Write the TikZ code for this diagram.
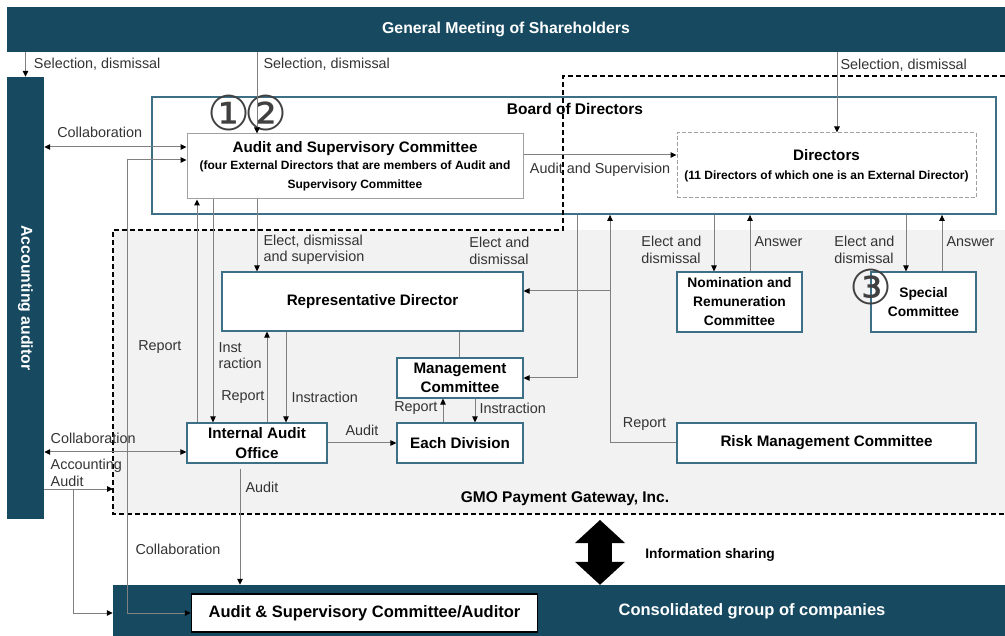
\documentclass[tikz,border=0pt]{standalone}
\usepackage{fontspec}
\setmainfont{Liberation Sans}
\newfontfamily\circfont{DejaVu Sans}
\usepackage{graphicx}
\usetikzlibrary{arrows.meta}
\definecolor{GovTeal}{HTML}{174A61}
\definecolor{BoxTeal}{HTML}{3D6F87}
\definecolor{LineGrey}{HTML}{808080}
\definecolor{EdgeGrey}{HTML}{A0A0A0}
\definecolor{ZoneGrey}{HTML}{F2F2F2}
\definecolor{LabelGrey}{HTML}{333333}
\definecolor{NumGrey}{HTML}{404040}
\newcommand\smallbold{\fontsize{12}{16}\selectfont}

\begin{document}
\begin{tikzpicture}[x=1pt,y=-1pt,>={Triangle[length=6pt,width=5.5pt,color=black]},
 banner/.style={fill=GovTeal,text=white,inner sep=0pt,font=\bfseries\fontsize{15.8}{18}\selectfont},
 unit/.style={draw=BoxTeal,line width=1.2pt,fill=white,align=center,inner sep=0pt,
              font=\bfseries\fontsize{15.2}{19.5}\selectfont},
 comm/.style={unit,font=\bfseries\fontsize{13.8}{19}\selectfont},
 note/.style={text=LabelGrey,inner sep=2pt,align=left,font=\fontsize{14.4}{16.5}\selectfont},
 link/.style={draw=LineGrey,line width=1pt},
 circnum/.style={text=NumGrey,inner sep=0pt,font=\circfont\fontsize{48}{48}\selectfont}]
\useasboundingbox (0,0) rectangle (1005,636);
\fill[ZoneGrey] (113,230) rectangle (1005,514);

% columns and rows where the connectors run
\foreach \n/\x in {acc/73,col/127,repa/197,insa/213,aud/240,sel/257,repb/267,insb/286,
                   repc/443,mg/459,insc/475,elm/577,share/600,rpr/610,nome/714,noma/750,
                   dsel/837,spce/906,spca/942}
  \coordinate (x\n) at (\x,0);
\foreach \n/\y in {cola/147,sup/155,colb/160,rrep/291,colc/452,acc/489}
  \coordinate (y\n) at (0,\y);
\coordinate (gmosw) at (113,514);

\node[banner,minimum width=998pt,minimum height=45pt] (gms) at (506,29.5) {General Meeting of Shareholders};
\node[banner,minimum width=37pt,minimum height=442pt] (audr) at (25.5,298) {\rotatebox{-90}{Accounting auditor}};
\node[draw=BoxTeal,line width=1.8pt,fill=white,inner sep=0pt,minimum width=844pt,minimum height=117pt] (board) at (574,155.5) {};
\node[font=\bfseries\fontsize{15.5}{18}\selectfont] (boardt) at (575,109) {Board of Directors};
\draw[line width=1.8pt,dash pattern=on 5pt off 3pt] (1005,76) -- (563,76) -- (563,230) -- (113,230) -- (gmosw) -- (1005,514);

\node[unit,draw=EdgeGrey,line width=1pt,minimum width=336pt,minimum height=65pt] (asc) at (355,166.5)
  {Audit and Supervisory Committee\\[-3pt]\smallbold (four External Directors that are members of Audit and\\\smallbold Supervisory Committee};
\node[unit,draw=EdgeGrey,line width=1pt,dash pattern=on 4pt off 2pt,minimum width=299pt,minimum height=65pt] (dirs) at (826.5,165.5)
  {Directors\\\smallbold (11 Directors of which one is an External Director)};
\node[unit,minimum width=301pt,minimum height=59pt] (rep) at (372.5,301.5) {Representative Director};
\node[unit,minimum width=126pt,minimum height=40pt] (mgmt) at (460,378) {Management\\Committee};
\node[unit,minimum width=126pt,minimum height=40pt] (div) at (460,443) {Each Division};
\node[unit,minimum width=140pt,minimum height=40pt] (iao) at (257,443) {Internal Audit\\Office};
\node[comm,minimum width=125pt,minimum height=60pt] (nrc) at (739.5,302) {Nomination and\\Remuneration\\Committee};
\node[comm,minimum width=105pt,minimum height=60pt] (spc) at (923.5,302) {Special\\Committee};
\node[unit,minimum width=299pt,minimum height=40pt] (risk) at (826.5,443) {Risk Management Committee};
\node[font=\bfseries\fontsize{15.5}{18}\selectfont] (gmot) at (565,499) {GMO Payment Gateway, Inc.};

\node[banner,minimum width=892pt,minimum height=51pt] (cons) at (559,610.5) {};
\node[text=white,font=\bfseries\fontsize{16.5}{18}\selectfont] (conslbl) at (752,611) {Consolidated group of companies};
\node[fill=white,draw=black,line width=1.5pt,inner sep=0pt,minimum width=346pt,minimum height=38pt,
      font=\bfseries\fontsize{16.5}{18}\selectfont] (ascaud) at (364.5,613) {Audit \& Supervisory Committee/Auditor};

\node[circnum] (num1) at (229,113.5) {①};
\node[circnum] (num2) at (266.5,113.5) {②};
\node[circnum] (num3) at (871.5,287) {③};

% shareholders
\draw[link,->] (audr.north |- gms.south) -- node[note,right,xshift=6pt]{Selection, dismissal} (audr.north);
\draw[link,->] (gms.south -| xsel) -- node[note,right,pos=0.15,xshift=4pt]{Selection, dismissal} (asc.north -| xsel);
\draw[link,->] (gms.south -| xdsel) -- node[note,right,pos=0.16,xshift=1pt]{Selection, dismissal} (dirs.north -| xdsel);

% board of directors
\draw[link,->] (asc.east |- ysup) -- node[note,below,yshift=-6pt]{Audit and Supervision} (dirs.west |- ysup);
\draw[link,->] (asc.south -| xsel) -- node[note,right,pos=0.7,xshift=4pt]{Elect, dismissal\\and supervision} (rep.north -| xsel);
\draw[link,->] (board.south -| xelm) |- node[note,left,pos=0.11,xshift=-45pt]{Elect and\\dismissal} (mgmt.east);
\draw[link,->] (risk.west) -| node[note,above,pos=0.24,yshift=10pt]{Report} (board.south -| xrpr);
\draw[link,->] (xrpr |- yrrep) -- (rep.east |- yrrep);
\draw[link,->] (board.south -| xnome) -- node[note,left,pos=0.62,xshift=-10pt]{Elect and\\dismissal} (nrc.north -| xnome);
\draw[link,->] (nrc.north -| xnoma) -- node[note,right,pos=0.52,xshift=2pt]{Answer} (board.south -| xnoma);
\draw[link,->] (board.south -| xspce) -- node[note,left,pos=0.62,xshift=-9pt]{Elect and\\dismissal} (spc.north -| xspce);
\draw[link,->] (spc.north -| xspca) -- node[note,right,pos=0.52,xshift=2pt]{Answer} (board.south -| xspca);

% audit lines
\draw[link,->] (iao.north -| xrepa) -- node[note,left,pos=0.34,xshift=-13pt]{Report} (asc.south -| xrepa);
\draw[link,->] (asc.south -| xinsa) -- node[note,right,pos=0.7,xshift=3pt]{Inst\\raction} (iao.north -| xinsa);
\draw[link,->] (iao.north -| xrepb) -- node[note,left,pos=0.28]{Report} (rep.south -| xrepb);
\draw[link,->] (rep.south -| xinsb) -- node[note,right,pos=0.72,xshift=3pt]{Instraction} (iao.north -| xinsb);
\draw[link] (rep.south -| xmg) -- (mgmt.north -| xmg);
\draw[link,->] (div.north -| xrepc) -- node[note,left,xshift=-3pt,yshift=2pt]{Report} (mgmt.south -| xrepc);
\draw[link,->] (mgmt.south -| xinsc) -- node[note,right,xshift=2pt,yshift=2pt]{Instraction} (div.north -| xinsc);
\draw[link,->] (iao) -- node[note,above,yshift=5pt]{Audit} (div);
\draw[link,->,shorten <=5pt] (iao.south -| xaud) -- node[note,right,pos=0.2,xshift=3pt]{Audit} (cons.north -| xaud);

% accounting auditor
\draw[link,<->] (audr.east |- ycola) -- node[note,above,pos=0.39,yshift=7pt]{Collaboration} (asc.west |- ycola);
\draw[link,<->] (asc.west |- ycolb) -| node[note,right,pos=0.93,xshift=6pt]{Collaboration} (xcol |- ascaud.west) -- (ascaud.west);
\draw[link,<->] (audr.east |- ycolc) -- node[note,above right,pos=0,xshift=4pt,yshift=6pt]{Collaboration} (iao.west |- ycolc);
\draw[link,->] (audr.east |- yacc) -- node[note,above right,pos=0,xshift=4pt]{Accounting\\Audit} (gmosw |- yacc);
\draw[link,->] (xacc |- yacc) |- (cons.west |- ascaud.west);

% group companies
\draw[line width=24pt,shorten <=6pt,{Triangle[length=23pt,width=50pt,line width=0pt]}-{Triangle[length=23pt,width=50pt,line width=0pt]}]
  (xshare |- gmosw) -- node[right=30pt,yshift=-6pt,font=\bfseries\fontsize{13.8}{16}\selectfont]{Information sharing} (cons.north -| xshare);
\end{tikzpicture}
\end{document}
